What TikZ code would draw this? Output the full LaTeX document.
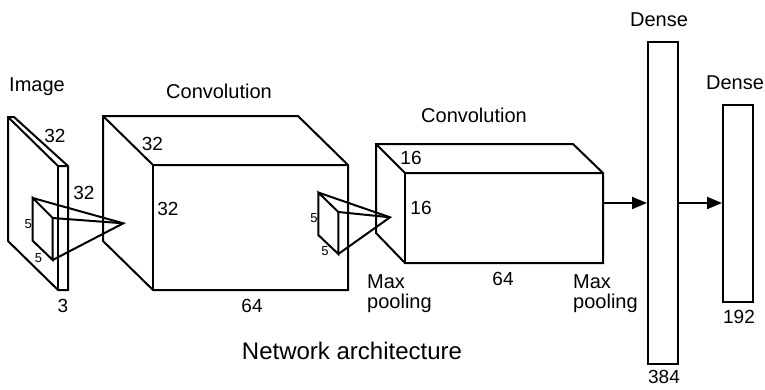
\documentclass[tikz,border=0pt]{standalone}
\usepackage{fontspec}
\setmainfont{Liberation Sans}
\usetikzlibrary{arrows.meta}
\begin{document}
\begin{tikzpicture}[x=1pt,y=-1pt,
  edge/.style={line width=2pt,line join=miter},
  word/.style={font=\fontsize{20}{24}\selectfont,inner sep=0pt,anchor=base},
  wordl/.style={word,anchor=base west},
  num/.style={font=\fontsize{19}{23}\selectfont,inner sep=0pt,anchor=base},
  small/.style={font=\fontsize{13}{15}\selectfont,inner sep=0pt,anchor=base},
  title/.style={font=\fontsize{24}{28}\selectfont,inner sep=0pt,anchor=base},
  dense/.style={draw,line width=2pt,minimum width=30pt,inner sep=0pt},
  arr/.style={line width=2pt,-{Triangle[length=15pt,width=12pt]}}]
\useasboundingbox (0,0) rectangle (765,389);

% ---- image slab
\draw[edge] (8,117) -- (14,117) -- (68,166) -- (68,290) -- (58,290) -- (8,241) -- cycle;
\draw[edge] (8,117) -- (58,166) -- (68,166);
\draw[edge] (58,166) -- (58,290);

% ---- kernel 1
\coordinate (k1a) at (32.7,198);
\coordinate (k1b) at (52.7,218);
\coordinate (k1e) at (52.7,260);
\coordinate (k1f) at (32.7,240.7);
\coordinate (k1p) at (123.3,223.3);
\draw[edge] (k1a) -- (k1b) -- (k1e) -- (k1f) -- cycle;
\draw[edge] (k1a) -- (k1p) -- (k1e);
\draw[edge] (k1b) -- (k1p);

% ---- conv 1
\draw[edge] (103,116) -- (298,116) -- (348,165) -- (348,290) -- (153,290) -- (103,241) -- cycle;
\draw[edge] (103,116) -- (153,165) -- (348,165);
\draw[edge] (153,165) -- (153,290);

% ---- kernel 2
\coordinate (k2a) at (318.3,192.5);
\coordinate (k2b) at (338.3,212);
\coordinate (k2e) at (338.3,254);
\coordinate (k2f) at (318.3,235);
\coordinate (k2p) at (390,217.3);
\draw[edge] (k2a) -- (k2b) -- (k2e) -- (k2f) -- cycle;
\draw[edge] (k2a) -- (k2p) -- (k2e);
\draw[edge] (k2b) -- (k2p);

% ---- conv 2
\draw[edge] (376,144) -- (573,144) -- (603,173) -- (603,263) -- (405,263) -- (376,233) -- cycle;
\draw[edge] (376,144) -- (405,173) -- (603,173);
\draw[edge] (405,173) -- (405,263);
\coordinate (c2out) at (603,203);

% ---- dense layers
\node[dense,minimum height=322pt] (d1) at (663,203) {};
\node[dense,minimum height=197pt] (d2) at (738,203) {};
\draw[arr] (c2out) -- (c2out -| d1.west);
\draw[arr] (d1.east |- c2out) -- (c2out -| d2.west);

% ---- labels
\node[word] (timage) at (37,91) {Image};
\node[num] (ts1) at (55,142) {32};
\node[num] (ts2) at (84,199) {32};
\node[num] (ts3) at (63,312) {3};
\node[small] (tk1a) at (28.3,228) {5};
\node[small] (tk1b) at (38.5,262) {5};

\node[word] (tconv1) at (219,98) {Convolution};
\node[num] (tc1a) at (152.5,150) {32};
\node[num] (tc1b) at (168,215) {32};
\node[num] (tc1c) at (252,312) {64};
\node[small] (tk2a) at (314,222.7) {5};
\node[small] (tk2b) at (325,255) {5};

\node[word] (tconv2) at (474,122) {Convolution};
\node[num] (tc2a) at (411,164) {16};
\node[num] (tc2b) at (421,214) {16};
\node[num] (tc2c) at (503,285) {64};
\node[wordl] (tmp1a) at (367,288) {Max};
\node[wordl] (tmp1b) at (367,308) {pooling};
\node[wordl] (tmp2a) at (573,288) {Max};
\node[wordl] (tmp2b) at (573,308) {pooling};

\node[word] (tdense1) at (659,26) {Dense};
\node[num] (td1) at (664,383) {384};
\node[word] (tdense2) at (735,89) {Dense};
\node[num] (td2) at (739,323) {192};

\node[title] (ttitle) at (352,359) {Network architecture};
\end{tikzpicture}
\end{document}
